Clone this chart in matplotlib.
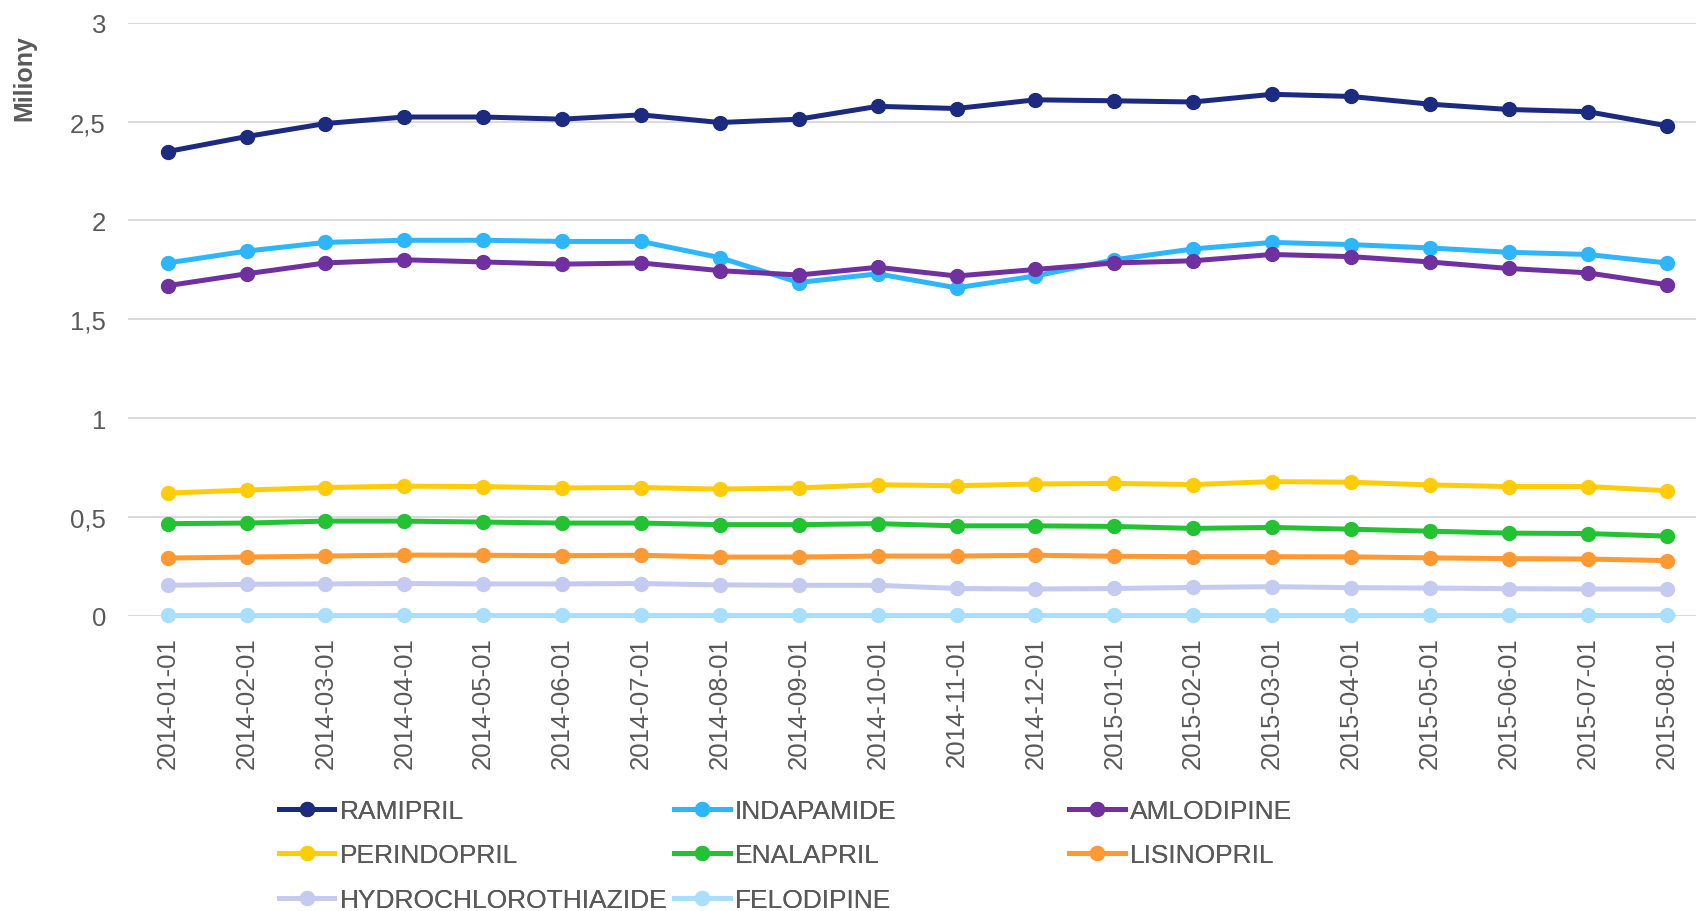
import matplotlib
matplotlib.use("Agg")
import matplotlib.pyplot as plt

plt.rcParams['font.family'] = ['Liberation Sans', 'DejaVu Sans']

months = ['2014-01-01', '2014-02-01', '2014-03-01', '2014-04-01', '2014-05-01',
          '2014-06-01', '2014-07-01', '2014-08-01', '2014-09-01', '2014-10-01',
          '2014-11-01', '2014-12-01', '2015-01-01', '2015-02-01', '2015-03-01',
          '2015-04-01', '2015-05-01', '2015-06-01', '2015-07-01', '2015-08-01']

ramipril = [2.349, 2.425, 2.491, 2.524, 2.524, 2.513, 2.535, 2.496, 2.513, 2.578,
            2.567, 2.611, 2.606, 2.600, 2.639, 2.628, 2.589, 2.562, 2.551, 2.480]
indapamide = [1.785, 1.845, 1.889, 1.900, 1.900, 1.894, 1.894, 1.812, 1.686, 1.730,
              1.659, 1.719, 1.801, 1.856, 1.889, 1.878, 1.861, 1.839, 1.828, 1.785]
amlodipine = [1.670, 1.730, 1.785, 1.801, 1.790, 1.779, 1.785, 1.746, 1.724, 1.763,
              1.719, 1.752, 1.785, 1.796, 1.828, 1.817, 1.790, 1.757, 1.735, 1.675]
perindopril = [0.620, 0.635, 0.648, 0.655, 0.653, 0.646, 0.648, 0.640, 0.646, 0.662,
               0.657, 0.666, 0.669, 0.663, 0.678, 0.675, 0.661, 0.653, 0.653, 0.632]
enalapril = [0.465, 0.468, 0.478, 0.478, 0.473, 0.468, 0.468, 0.460, 0.460, 0.465,
             0.454, 0.454, 0.451, 0.441, 0.446, 0.437, 0.427, 0.417, 0.415, 0.402]
lisinopril = [0.291, 0.296, 0.301, 0.306, 0.305, 0.303, 0.305, 0.296, 0.296, 0.301,
              0.301, 0.305, 0.300, 0.298, 0.298, 0.297, 0.292, 0.288, 0.286, 0.278]
hydrochlorothiazide = [0.153, 0.158, 0.160, 0.162, 0.160, 0.160, 0.162, 0.155, 0.153, 0.153,
                       0.137, 0.134, 0.137, 0.142, 0.146, 0.141, 0.139, 0.136, 0.134, 0.134]
felodipine = [0.004] * 20

series = [
    ('RAMIPRIL', ramipril, '#1c2a80'),
    ('INDAPAMIDE', indapamide, '#2db6fc'),
    ('AMLODIPINE', amlodipine, '#7030a0'),
    ('PERINDOPRIL', perindopril, '#ffcc0a'),
    ('ENALAPRIL', enalapril, '#22c233'),
    ('LISINOPRIL', lisinopril, '#ff9933'),
    ('HYDROCHLOROTHIAZIDE', hydrochlorothiazide, '#c5caf0'),
    ('FELODIPINE', felodipine, '#a9defc'),
]

grey = '#595959'

fig = plt.figure(figsize=(16.96, 9.12), dpi=100)
ax = fig.add_axes([0.0756, 0.324, 0.9303, 0.6497])

x = list(range(len(months)))
handles = {}
for name, vals, col in series:
    ln, = ax.plot(x, vals, color=col, linewidth=3.6, marker='o', markersize=10,
                  label=name, clip_on=False, zorder=3)
    handles[name] = ln

ax.set_xlim(-0.5, len(months) - 0.5)
ax.set_ylim(0, 3)
ax.set_yticks([0, 0.5, 1, 1.5, 2, 2.5, 3])
ax.set_yticklabels(['0', '0,5', '1', '1,5', '2', '2,5', '3'])
ax.set_xticks(x)
ax.set_xticklabels(months, rotation=90)
ax.tick_params(axis='both', length=0, labelsize=18.5, colors=grey)
ax.tick_params(axis='y', pad=16)
ax.tick_params(axis='x', pad=15)
ax.grid(axis='y', color='#d9d9d9', linewidth=1.4)
ax.set_axisbelow(True)
for s in ax.spines.values():
    s.set_visible(False)

fig.text(0.0142, 0.914, 'Miliony', rotation=90, ha='center', va='center',
         fontsize=18, fontweight='bold', color=grey)

# legend laid out as three fixed-width columns
columns = [
    (['RAMIPRIL', 'PERINDOPRIL', 'HYDROCHLOROTHIAZIDE'], 0.1645),
    (['INDAPAMIDE', 'ENALAPRIL', 'FELODIPINE'], 0.3975),
    (['AMLODIPINE', 'LISINOPRIL'], 0.6304),
]
for names, xpos in columns:
    leg = fig.legend([handles[n] for n in names], names, loc='upper left',
                     bbox_to_anchor=(xpos, 0.123), frameon=False, fontsize=19,
                     handlelength=2.1, handletextpad=0.2, borderpad=0,
                     borderaxespad=0, labelspacing=0.78, labelcolor=grey)
    fig.add_artist(leg)

fig.savefig('out.png', dpi=100)
